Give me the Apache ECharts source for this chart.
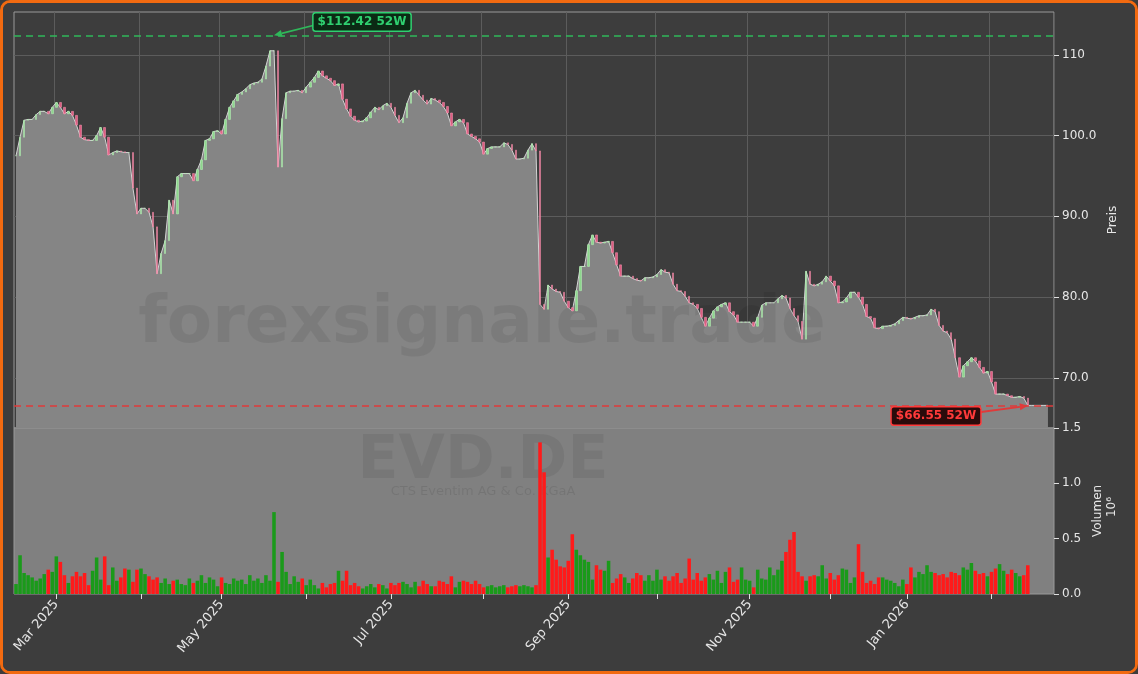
<!DOCTYPE html>
<html>
<head>
<meta charset="utf-8">
<script src="https://cdn.jsdelivr.net/npm/echarts@6/dist/echarts.min.js"></script>
<style>
  html, body { margin: 0; padding: 0; background: #3c3c3c; }
  #frame { width: 1138px; height: 674px; box-sizing: border-box; border: 3px solid #f26a10; border-radius: 10px; background: #3d3d3d; overflow: hidden; position: relative; }
  #chart { position: absolute; left: -3px; top: -3px; width: 1138px; height: 674px; }
</style>
</head>
<body>
<div id="frame"><div id="chart"></div></div>
<script>
// daily closes, EVD.DE, 17 Feb 2025 .. 13 Feb 2026 (trading days)
var closes = [
  97.5, 99.8, 101.9, 102.0, 102.0, 102.6, 103.0, 103.0, 102.7, 103.5,
  104.1, 103.5, 102.7, 103.0, 102.5, 101.3, 99.8, 99.5, 99.4, 99.4,
  100.0, 101.0, 99.8, 97.6, 97.9, 98.1, 98.0, 97.9, 97.9, 93.5,
  90.3, 91.0, 91.0, 90.5, 88.7, 82.9, 85.4, 87.0, 92.0, 90.3,
  94.9, 95.3, 95.3, 95.3, 94.4, 95.8, 97.0, 99.4, 99.6, 100.5,
  100.6, 100.2, 102.0, 103.5, 104.3, 105.1, 105.4, 105.8, 106.3, 106.5,
  106.6, 107.0, 108.6, 110.5, 110.5, 96.1, 102.1, 105.3, 105.5, 105.5,
  105.6, 105.3, 106.0, 106.6, 107.2, 108.0, 107.4, 107.1, 106.8, 106.2,
  106.4, 104.5, 103.3, 102.4, 101.9, 101.7, 101.8, 102.2, 102.9, 103.5,
  103.2, 103.7, 104.0, 103.5, 102.5, 101.6, 102.2, 104.0, 105.3, 105.6,
  105.0, 104.4, 103.9, 104.6, 104.4, 104.1, 103.6, 102.8, 101.2, 101.7,
  102.0, 101.6, 100.2, 99.9, 99.6, 99.2, 97.7, 98.4, 98.6, 98.6,
  98.6, 99.1, 98.9, 98.2, 97.1, 97.1, 97.2, 98.2, 99.0, 98.1,
  79.1, 78.5, 81.5, 81.0, 80.7, 80.6, 79.5, 78.7, 78.3, 80.8,
  83.8, 83.8, 86.5, 87.7, 86.8, 86.7, 86.8, 86.9, 85.5, 84.0,
  82.6, 82.6, 82.6, 82.3, 82.1, 82.0, 82.4, 82.4, 82.5, 82.8,
  83.4, 83.1, 83.0, 81.6, 80.8, 80.7, 80.1, 79.3, 79.1, 78.6,
  77.5, 76.4, 77.4, 78.3, 78.8, 79.1, 79.3, 78.2, 77.8, 76.9,
  76.9, 76.9, 76.9, 76.4, 77.5, 79.0, 79.3, 79.3, 79.3, 79.8,
  80.2, 79.9, 78.6, 77.7, 77.0, 74.8, 83.2, 81.6, 81.4, 81.6,
  81.9, 82.6, 82.0, 81.4, 79.3, 79.4, 79.9, 80.6, 80.6, 80.0,
  79.1, 77.6, 77.4, 76.2, 76.1, 76.4, 76.4, 76.5, 76.7, 77.1,
  77.5, 77.4, 77.3, 77.5, 77.7, 77.7, 77.8, 78.5, 78.2, 76.5,
  75.8, 75.6, 74.8, 72.5, 70.1, 71.5, 72.0, 72.5, 72.1, 71.3,
  70.6, 70.8, 69.5, 68.0, 68.0, 68.0, 67.8, 67.6, 67.6, 67.7,
  67.5, 66.6
];

// volume, millions
var volumes = [
  0.09, 0.35, 0.19, 0.17, 0.15, 0.12, 0.14, 0.18, 0.22, 0.20,
  0.34, 0.29, 0.17, 0.10, 0.16, 0.20, 0.16, 0.19, 0.08, 0.21,
  0.33, 0.13, 0.34, 0.08, 0.24, 0.12, 0.15, 0.23, 0.22, 0.11,
  0.22, 0.23, 0.18, 0.16, 0.13, 0.15, 0.10, 0.14, 0.09, 0.12,
  0.13, 0.09, 0.08, 0.14, 0.10, 0.12, 0.17, 0.10, 0.15, 0.13,
  0.07, 0.15, 0.10, 0.09, 0.14, 0.12, 0.13, 0.09, 0.17, 0.12,
  0.14, 0.10, 0.17, 0.12, 0.74, 0.11, 0.38, 0.20, 0.09, 0.16,
  0.11, 0.14, 0.08, 0.13, 0.08, 0.05, 0.10, 0.06, 0.09, 0.10,
  0.21, 0.12, 0.21, 0.08, 0.10, 0.07, 0.05, 0.07, 0.09, 0.06,
  0.09, 0.08, 0.05, 0.10, 0.08, 0.10, 0.11, 0.09, 0.06, 0.11,
  0.07, 0.12, 0.09, 0.07, 0.07, 0.12, 0.11, 0.09, 0.16, 0.06,
  0.11, 0.12, 0.11, 0.09, 0.12, 0.09, 0.06, 0.07, 0.08, 0.06,
  0.07, 0.08, 0.06, 0.07, 0.08, 0.07, 0.08, 0.07, 0.06, 0.08,
  1.37, 1.10, 0.33, 0.40, 0.31, 0.25, 0.24, 0.30, 0.54, 0.40,
  0.35, 0.31, 0.29, 0.13, 0.26, 0.22, 0.21, 0.30, 0.10, 0.14,
  0.18, 0.15, 0.10, 0.14, 0.19, 0.17, 0.12, 0.17, 0.12, 0.22,
  0.13, 0.16, 0.12, 0.16, 0.19, 0.10, 0.14, 0.32, 0.13, 0.19,
  0.12, 0.15, 0.18, 0.13, 0.21, 0.10, 0.20, 0.24, 0.11, 0.13,
  0.24, 0.13, 0.12, 0.06, 0.22, 0.14, 0.13, 0.24, 0.17, 0.22,
  0.30, 0.38, 0.49, 0.56, 0.20, 0.16, 0.12, 0.16, 0.17, 0.16,
  0.26, 0.14, 0.19, 0.13, 0.17, 0.23, 0.22, 0.10, 0.15, 0.45,
  0.20, 0.10, 0.12, 0.09, 0.15, 0.15, 0.13, 0.12, 0.10, 0.07,
  0.13, 0.09, 0.24, 0.15, 0.20, 0.18, 0.26, 0.20, 0.19, 0.17,
  0.18, 0.15, 0.20, 0.19, 0.17, 0.24, 0.22, 0.28, 0.21, 0.18,
  0.19, 0.16, 0.20, 0.23, 0.27, 0.21, 0.18, 0.22, 0.19, 0.16,
  0.17, 0.26
];

var high52 = 112.42, high52Idx = 64;
var low52 = 66.55;
var priceTicks = [70, 80, 90, 100, 110];
var volumeTicks = [0, 0.5, 1.0, 1.5];
var monthNames = ['Jan','Feb','Mar','Apr','May','Jun','Jul','Aug','Sep','Oct','Nov','Dec'];
var holidays = ['2025-04-18','2025-04-21','2025-05-01','2025-12-24','2025-12-25','2025-12-26','2025-12-31','2026-01-01'];
var padSlots = 6;

// trading calendar (Xetra)
var dates = [];
var d = new Date(Date.UTC(2025, 1, 17));
while (dates.length < closes.length) {
    var iso = d.toISOString().slice(0, 10);
    var wd = d.getUTCDay();
    if (wd !== 0 && wd !== 6 && holidays.indexOf(iso) < 0) dates.push(new Date(d));
    d.setUTCDate(d.getUTCDate() + 1);
}
var cats = dates.map(x => x.toISOString().slice(0, 10));
for (let i = 0; i < padSlots; i++) cats.push('');

var monthStart = {};
for (let i = 1; i < dates.length; i++) {
    if (dates[i].getUTCMonth() !== dates[i - 1].getUTCMonth()) monthStart[i] = dates[i].getUTCMonth();
}
function isTick(i) { return monthStart[i] !== undefined; }
function isLabel(i) { return isTick(i) && monthStart[i] % 2 === 0; }

var candles = closes.map((c, i) => {
    var o = i === 0 ? c : closes[i - 1];
    return [o, c, Math.min(o, c), Math.max(o, c)];
});
var areaData = closes.slice();
for (let i = 0; i < padSlots - 1; i++) areaData.push(closes[closes.length - 1]);
var volData = volumes.map((v, i) => ({
    value: v,
    itemStyle: { color: candles[i][1] >= candles[i][0] ? '#1a9a1a' : '#ff1a1a' }
}));

var textColor = '#e6e6e6';
var chart = echarts.init(document.getElementById('chart'));
var option = {
    backgroundColor: '#3d3d3d',
    animation: false,
    textStyle: { fontFamily: 'DejaVu Sans' },
    grid: [
        { left: 14, right: 84, top: 12, height: 416, show: true, borderColor: '#9a9a9a', borderWidth: 1, backgroundColor: '#3d3d3d' },
        { left: 14, right: 84, top: 428, height: 166, show: true, borderColor: '#9a9a9a', borderWidth: 1, backgroundColor: '#808080' }
    ],
    xAxis: [
        {
            type: 'category', gridIndex: 0, data: cats, boundaryGap: true,
            axisLine: { show: false }, axisTick: { show: false }, axisLabel: { show: false },
            splitLine: { show: true, interval: isTick, lineStyle: { color: '#5c5c5c', width: 1 } }
        },
        {
            type: 'category', gridIndex: 1, data: cats, boundaryGap: true,
            axisLine: { show: false },
            axisTick: { show: true, interval: isTick, length: 5, lineStyle: { color: '#e0e0e0' }, alignWithLabel: true },
            axisLabel: {
                interval: isLabel, rotate: 50, color: textColor, fontSize: 13, margin: 8,
                formatter: function (v) {
                    if (!v) return '';
                    var p = v.split('-');
                    return monthNames[+p[1] - 1] + ' ' + p[0];
                }
            },
            splitLine: { show: false }
        }
    ],
    yAxis: [
        {
            type: 'value', gridIndex: 0, position: 'right', min: 63.8, max: 115.3,
            name: 'Preis', nameLocation: 'middle', nameGap: 44, nameRotate: 90,
            nameTextStyle: { color: textColor, fontSize: 12 },
            axisLine: { show: false },
            axisTick: { show: true, customValues: priceTicks, length: 5, lineStyle: { color: '#e0e0e0' } },
            axisLabel: {
                customValues: priceTicks, color: textColor, fontSize: 12, margin: 8,
                formatter: v => v === 110 ? '110' : v.toFixed(1)
            },
            splitLine: { show: true, lineStyle: { color: '#5c5c5c' } }
        },
        {
            type: 'value', gridIndex: 1, position: 'right', min: 0, max: 1.5,
            name: 'Volumen', nameLocation: 'middle', nameGap: 36, nameRotate: 90,
            nameTextStyle: { color: textColor, fontSize: 12 },
            axisLine: { show: false },
            axisTick: { show: true, customValues: volumeTicks, length: 5, lineStyle: { color: '#e0e0e0' } },
            axisLabel: { customValues: volumeTicks, color: textColor, fontSize: 12, margin: 8, formatter: v => v.toFixed(1) },
            splitLine: { show: false }
        }
    ],
    series: [
        {
            type: 'line', xAxisIndex: 0, yAxisIndex: 0, data: areaData, symbol: 'none',
            lineStyle: { color: '#d4d4d4', width: 1 },
            areaStyle: { color: '#858585', opacity: 1, origin: 'start' },
            z: 1,
            markLine: {
                symbol: 'none', silent: true, label: { show: false },
                data: [
                    { yAxis: high52, lineStyle: { color: '#2fb85a', type: [7, 5], width: 1.5 } },
                    { yAxis: low52, lineStyle: { color: '#e03a3a', type: [7, 5], width: 1.5 } }
                ]
            }
        },
        {
            type: 'candlestick', xAxisIndex: 0, yAxisIndex: 0, data: candles, barWidth: 2, z: 3,
            itemStyle: { color: '#8ee08e', color0: '#f0608a', borderColor: '#b8f0b8', borderColor0: '#f596b0', borderWidth: 0.6, opacity: 0.9 }
        },
        {
            type: 'bar', xAxisIndex: 1, yAxisIndex: 1, data: volData, barCategoryGap: '12%'
        }
    ]
};
chart.setOption(option);

var pHigh = chart.convertToPixel({ gridIndex: 0 }, [high52Idx, high52]);
var pLow = chart.convertToPixel({ gridIndex: 0 }, [closes.length - 1, low52]);

function arrow(x1, y1, x2, y2, color) {
    var ang = Math.atan2(y2 - y1, x2 - x1);
    var L = 8, W = 3.5;
    var bx = x2 - L * Math.cos(ang), by = y2 - L * Math.sin(ang);
    return [
        { type: 'line', shape: { x1: x1, y1: y1, x2: bx, y2: by }, style: { stroke: color, lineWidth: 1.8 }, z: 20 },
        { type: 'polygon', shape: { points: [[x2, y2],
            [bx + W * Math.sin(ang), by - W * Math.cos(ang)],
            [bx - W * Math.sin(ang), by + W * Math.cos(ang)]] }, style: { fill: color }, z: 20 }
    ];
}
function tag(cx, cy, text, fg, bg) {
    return {
        type: 'text', x: cx, y: cy, z: 21,
        style: {
            text: text, fill: fg, font: 'bold 12px "DejaVu Sans"', align: 'center', verticalAlign: 'middle',
            backgroundColor: bg, borderColor: fg, borderWidth: 1.5, borderRadius: 2, padding: [3, 4, 2, 4]
        }
    };
}

chart.setOption({
    graphic: [
        { type: 'text', x: 482, y: 325, z: 2, silent: true,
          style: { text: 'forexsignale.trade', font: 'bold 66px "DejaVu Sans"', fill: 'rgba(0,0,0,0.07)', align: 'center', verticalAlign: 'middle' } },
        { type: 'text', x: 483, y: 462, z: 2, silent: true,
          style: { text: 'EVD.DE', font: 'bold 60px "DejaVu Sans"', fill: 'rgba(0,0,0,0.07)', align: 'center', verticalAlign: 'middle' } },
        { type: 'text', x: 483, y: 492, z: 2, silent: true,
          style: { text: 'CTS Eventim AG & Co. KGaA', font: '13px "DejaVu Sans"', fill: 'rgba(0,0,0,0.09)', align: 'center', verticalAlign: 'middle' } },
        { type: 'text', x: 1112, y: 507, rotation: Math.PI / 2, z: 5,
          style: { text: '10⁶', font: '12px "DejaVu Sans"', fill: textColor, align: 'center', verticalAlign: 'middle' } }
    ]
        .concat(arrow(315, 25, pHigh[0], pHigh[1], '#2fb85a'))
        .concat([tag(362, 22, '$112.42 52W', '#2fd070', '#0b2a14')])
        .concat(arrow(981, 412, pLow[0], pLow[1], '#e03a3a'))
        .concat([tag(936, 416, '$66.55 52W', '#ff3a3a', '#2a0b0b')])
});
</script>
</body>
</html>
